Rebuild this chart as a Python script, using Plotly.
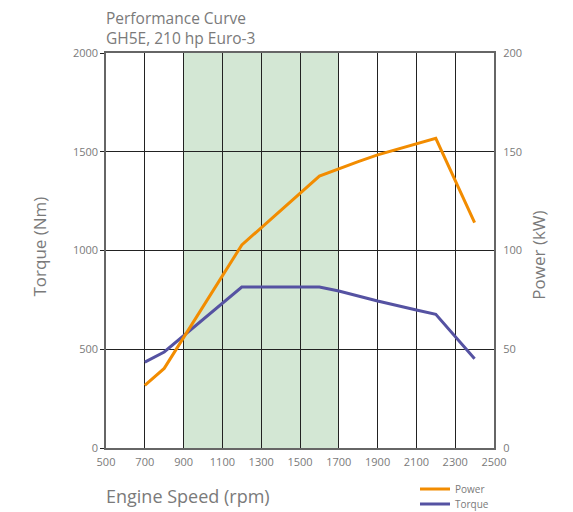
import plotly.graph_objects as go

rpm_torque = [700, 800, 1200, 1600, 1700, 1900, 2100, 2200, 2400]
torque_nm = [435, 486, 815, 815, 795, 744, 699, 677, 452]

rpm_power = [700, 800, 1200, 1600, 1800, 1900, 2200, 2400]
power_kw = [31.7, 40.3, 102.8, 137.7, 145, 148.4, 156.8, 114.1]

x_ticks = [500, 700, 900, 1100, 1300, 1500, 1700, 1900, 2100, 2300, 2500]
torque_ticks = [0, 500, 1000, 1500, 2000]
power_ticks = [0, 50, 100, 150, 200]
band = [900, 1700]

ORANGE = "#F28C00"
PURPLE = "#5552A2"
GREY = "#7a7a7a"
FONT = "Open Sans"

fig = go.Figure()
fig.add_trace(go.Scatter(x=rpm_power, y=power_kw, mode="lines", name="Power",
                         line=dict(color=ORANGE, width=3), yaxis="y2", legend="legend"))
fig.add_trace(go.Scatter(x=rpm_torque, y=torque_nm, mode="lines", name="Torque",
                         line=dict(color=PURPLE, width=3), yaxis="y", legend="legend2"))

fig.add_shape(type="rect", xref="x", yref="paper", x0=band[0], x1=band[1], y0=0, y1=1,
              fillcolor="#d3e7d4", line=dict(width=0), layer="below")

leg = dict(xanchor="left", yanchor="middle", font=dict(size=10, color=GREY),
           bgcolor="rgba(0,0,0,0)", itemwidth=30, borderwidth=0)

fig.update_layout(
    width=573, height=512,
    margin=dict(l=106, r=79, t=53, b=64, autoexpand=False),
    paper_bgcolor="white", plot_bgcolor="white",
    font=dict(family=FONT, color=GREY, size=11),
    showlegend=True,
    legend=dict(x=0.7964, y=-0.1038, **leg),
    legend2=dict(x=0.7964, y=-0.1418, **leg),
    xaxis=dict(range=[500, 2500], tickvals=x_ticks, ticktext=[str(v) for v in x_ticks],
               showgrid=True, gridcolor="#222", gridwidth=1,
               showline=True, linecolor="#666", linewidth=1.5, mirror=True,
               zeroline=False, ticks="", ticklabelstandoff=3,
               tickfont=dict(size=11, color=GREY)),
    yaxis=dict(range=[0, 2000], tickvals=torque_ticks,
               showgrid=True, gridcolor="#222", gridwidth=1,
               showline=True, linecolor="#666", linewidth=1.5, mirror=True,
               zeroline=False, ticks="outside", ticklen=4, tickcolor="#222",
               tickfont=dict(size=11, color=GREY)),
    yaxis2=dict(range=[0, 200], tickvals=power_ticks, overlaying="y", side="right",
                showgrid=False, zeroline=False, showline=False,
                ticks="outside", ticklen=6, tickcolor="rgba(0,0,0,0)",
                tickfont=dict(size=11, color=GREY)),
)

fig.add_annotation(text="Performance Curve<br>GH5E, 210 hp Euro-3", xref="paper", yref="paper",
                   x=0, y=1, xshift=-2, yshift=48, xanchor="left", yanchor="top", align="left",
                   showarrow=False, font=dict(size=15.5, color=GREY, family=FONT))
fig.add_annotation(text="Torque (Nm)", xref="paper", yref="paper", x=0, y=0.51, xshift=-66,
                   xanchor="center", yanchor="middle",
                   textangle=-90, showarrow=False, font=dict(size=17, color=GREY, family=FONT))
fig.add_annotation(text="Power (kW)", xref="paper", yref="paper", x=1, y=0.487, xshift=45,
                   xanchor="center", yanchor="middle",
                   textangle=-90, showarrow=False, font=dict(size=17, color=GREY, family=FONT))
fig.add_annotation(text="Engine Speed (rpm)", xref="paper", yref="paper", x=0, y=0,
                   xshift=-2, yshift=-48, xanchor="left", yanchor="middle", showarrow=False,
                   font=dict(size=18, color=GREY, family=FONT))

fig.write_html("out.html", config={"displayModeBar": False},
               post_script="document.body.style.margin='0';document.body.style.overflow='hidden';")
